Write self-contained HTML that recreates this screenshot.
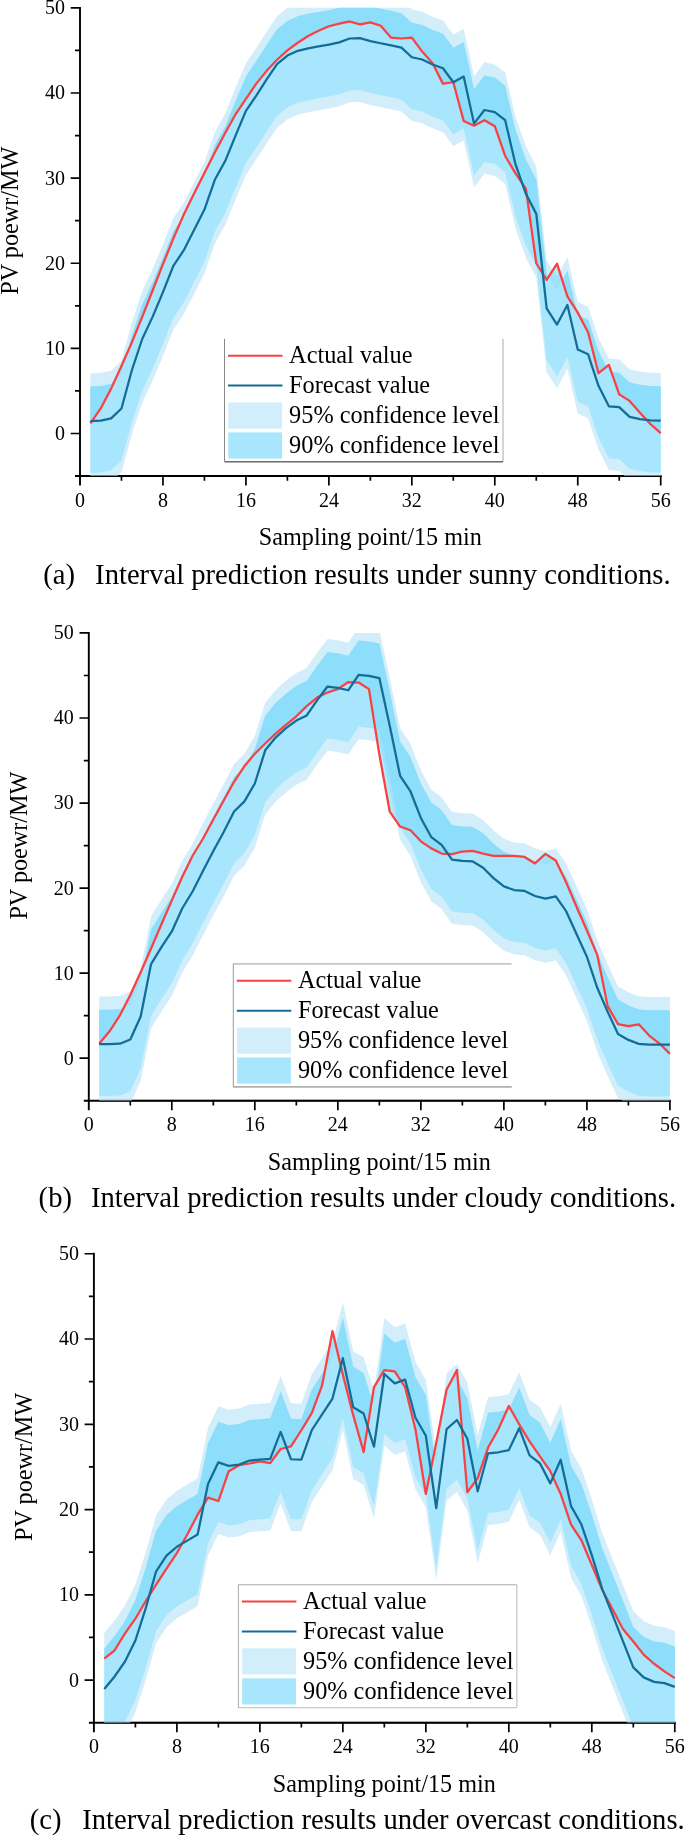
<!DOCTYPE html>
<html><head><meta charset="utf-8"><title>Interval prediction results</title>
<style>
html,body{margin:0;padding:0;background:#fff;}
body{width:685px;height:1836px;overflow:hidden;font-family:"Liberation Serif",serif;}
svg{display:block;will-change:transform;font-family:"Liberation Serif",serif;}
text{fill:#000;}
</style></head><body>
<svg width="685" height="1836" viewBox="0 0 685 1836">
<rect width="685" height="1836" fill="#fff"/>
<clipPath id="c0"><rect x="80" y="7.85" width="581.72" height="468.21"/></clipPath>
<g stroke="#000" stroke-width="1.9" fill="none" stroke-linecap="butt">
<path d="M80 6.9V485.56"/>
<path d="M75 476.06H661.67"/>
<path d="M70.7 433.5H80M70.7 348.37H80M70.7 263.24H80M70.7 178.11H80M70.7 92.98H80M70.7 7.85H80M75 390.94H80M75 305.81H80M75 220.68H80M75 135.55H80M75 50.42H80M162.96 476.06V485.56M245.92 476.06V485.56M328.88 476.06V485.56M411.84 476.06V485.56M494.8 476.06V485.56M577.76 476.06V485.56M660.72 476.06V485.56M121.48 476.06V480.87M204.44 476.06V480.87M287.4 476.06V480.87M370.36 476.06V480.87M453.32 476.06V480.87M536.28 476.06V480.87M619.24 476.06V480.87" stroke-width="1.7"/>
</g>
<g clip-path="url(#c0)">
<polygon fill="#D1EEFA" points="90.37,373.4 100.74,372.89 111.11,370.76 121.48,360.8 131.85,322.58 142.22,291.33 152.59,269.2 162.96,244.51 173.33,218.12 183.7,202.8 194.07,182.37 204.44,161.94 214.81,132.14 225.18,113.41 235.55,87.87 245.92,63.18 256.29,47.86 266.66,31.69 277.03,16.36 287.4,7.85 297.77,3.17 308.14,0.61 318.51,-1.26 328.88,-3.05 339.25,-5.35 349.62,-9.18 359.99,-9.52 370.36,-6.62 380.73,-4.41 391.1,-2.37 401.47,-0.07 411.84,9.55 422.21,11.85 432.58,16.79 442.95,20.62 453.32,34.58 463.69,28.88 474.06,75.95 484.43,62.33 494.8,64.38 505.17,72.55 515.54,116.82 525.91,146.19 536.28,166.19 546.65,260.69 557.02,276.86 567.39,257.28 577.76,301.89 588.13,306.66 598.5,338.15 608.87,358.59 619.24,359.44 629.61,369.23 639.98,371.44 650.35,372.72 660.72,373.06 660.72,484.58 650.35,484.24 639.98,482.96 629.61,480.75 619.24,470.96 608.87,470.11 598.5,449.67 588.13,418.18 577.76,413.41 567.39,368.8 557.02,388.38 546.65,372.21 536.28,277.71 525.91,257.71 515.54,228.34 505.17,184.07 494.8,175.9 484.43,173.85 474.06,187.47 463.69,140.4 453.32,146.1 442.95,132.14 432.58,128.31 422.21,123.37 411.84,121.07 401.47,111.45 391.1,109.15 380.73,107.11 370.36,104.9 359.99,102 349.62,102.34 339.25,106.18 328.88,108.47 318.51,110.26 308.14,112.13 297.77,114.69 287.4,119.37 277.03,127.88 266.66,143.21 256.29,159.38 245.92,174.7 235.55,199.39 225.18,224.93 214.81,243.66 204.44,273.46 194.07,293.89 183.7,314.32 173.33,329.64 162.96,356.03 152.59,380.72 142.22,402.85 131.85,434.1 121.48,472.32 111.11,482.28 100.74,484.41 90.37,484.92"/>
<polygon fill="#A7E6FC" points="90.37,386.59 100.74,386.08 111.11,383.95 121.48,373.99 131.85,335.77 142.22,304.53 152.59,282.39 162.96,257.71 173.33,231.32 183.7,215.99 194.07,195.56 204.44,175.13 214.81,145.33 225.18,126.61 235.55,101.07 245.92,76.38 256.29,61.06 266.66,44.88 277.03,29.56 287.4,21.05 297.77,16.36 308.14,13.81 318.51,11.94 328.88,10.15 339.25,7.85 349.62,4.02 359.99,3.68 370.36,6.57 380.73,8.79 391.1,10.83 401.47,13.13 411.84,22.75 422.21,25.05 432.58,29.98 442.95,33.81 453.32,47.78 463.69,42.07 474.06,89.15 484.43,75.53 494.8,77.57 505.17,85.74 515.54,130.01 525.91,159.38 536.28,179.39 546.65,273.88 557.02,290.06 567.39,270.48 577.76,315.08 588.13,319.85 598.5,351.35 608.87,371.78 619.24,372.63 629.61,382.42 639.98,384.64 650.35,385.91 660.72,386.25 660.72,472.66 650.35,472.32 639.98,471.04 629.61,468.83 619.24,459.04 608.87,458.19 598.5,437.76 588.13,406.26 577.76,401.49 567.39,356.88 557.02,376.46 546.65,360.29 536.28,265.79 525.91,245.79 515.54,216.42 505.17,172.15 494.8,163.98 484.43,161.94 474.06,175.56 463.69,128.48 453.32,134.18 442.95,120.22 432.58,116.39 422.21,111.45 411.84,109.15 401.47,99.54 391.1,97.24 380.73,95.19 370.36,92.98 359.99,90.09 349.62,90.43 339.25,94.26 328.88,96.56 318.51,98.34 308.14,100.22 297.77,102.77 287.4,107.45 277.03,115.97 266.66,131.29 256.29,147.46 245.92,162.79 235.55,187.47 225.18,213.01 214.81,231.74 204.44,261.54 194.07,281.97 183.7,302.4 173.33,317.72 162.96,344.11 152.59,368.8 142.22,390.94 131.85,422.18 121.48,460.4 111.11,470.36 100.74,472.49 90.37,473"/>
<polygon fill="rgba(120,216,250,0.57)" points="90.37,386.59 100.74,386.08 111.11,383.95 121.48,373.99 131.85,335.77 142.22,304.53 152.59,282.39 162.96,257.71 173.33,231.32 183.7,215.99 194.07,195.56 204.44,175.13 214.81,145.33 225.18,126.61 235.55,101.07 245.92,76.38 256.29,61.06 266.66,44.88 277.03,29.56 287.4,21.05 297.77,16.36 308.14,13.81 318.51,11.94 328.88,10.15 339.25,7.85 349.62,4.02 359.99,3.68 370.36,6.57 380.73,8.79 391.1,10.83 401.47,13.13 411.84,22.75 422.21,25.05 432.58,29.98 442.95,33.81 453.32,47.78 463.69,42.07 474.06,89.15 484.43,75.53 494.8,77.57 505.17,85.74 515.54,130.01 525.91,159.38 536.28,179.39 546.65,273.88 557.02,290.06 567.39,270.48 577.76,315.08 588.13,319.85 598.5,351.35 608.87,371.78 619.24,372.63 629.61,382.42 639.98,384.64 650.35,385.91 660.72,386.25 660.72,433.16 650.35,423.97 639.98,412.81 629.61,400.9 619.24,394.34 608.87,364.97 598.5,373.23 588.13,332.45 577.76,312.62 567.39,296.44 557.02,263.67 546.65,279.84 536.28,263.24 525.91,188.92 515.54,173.43 505.17,155.98 494.8,126.18 484.43,120.22 474.06,125.76 463.69,121.07 453.32,82.25 442.95,83.62 432.58,63.18 422.21,51.61 411.84,37.65 401.47,38.5 391.1,37.65 380.73,25.73 370.36,22.32 359.99,24.45 349.62,21.47 339.25,23.6 328.88,26.24 318.51,30.84 308.14,35.94 297.77,42.75 287.4,50.42 277.03,59.78 266.66,70.85 256.29,83.62 245.92,98.94 235.55,114.26 225.18,132.99 214.81,152.57 204.44,173 194.07,193.43 183.7,214.72 173.33,238.55 162.96,264.09 152.59,290.48 142.22,316.87 131.85,342.41 121.48,365.91 111.11,388.64 100.74,408.47 90.37,423.28"/>
</g>
<path d="M90.37 476.06H660.72" stroke="#000" stroke-width="1.9" opacity="0.45"/>
<polyline fill="none" stroke="#FA4040" stroke-width="2.25" stroke-linejoin="round" points="90.37,423.28 100.74,408.47 111.11,388.64 121.48,365.91 131.85,342.41 142.22,316.87 152.59,290.48 162.96,264.09 173.33,238.55 183.7,214.72 194.07,193.43 204.44,173 214.81,152.57 225.18,132.99 235.55,114.26 245.92,98.94 256.29,83.62 266.66,70.85 277.03,59.78 287.4,50.42 297.77,42.75 308.14,35.94 318.51,30.84 328.88,26.24 339.25,23.6 349.62,21.47 359.99,24.45 370.36,22.32 380.73,25.73 391.1,37.65 401.47,38.5 411.84,37.65 422.21,51.61 432.58,63.18 442.95,83.62 453.32,82.25 463.69,121.07 474.06,125.76 484.43,120.22 494.8,126.18 505.17,155.98 515.54,173.43 525.91,188.92 536.28,263.24 546.65,279.84 557.02,263.67 567.39,296.44 577.76,312.62 588.13,332.45 598.5,373.23 608.87,364.97 619.24,394.34 629.61,400.9 639.98,412.81 650.35,423.97 660.72,433.16"/>
<polyline fill="none" stroke="#146C96" stroke-width="2.25" stroke-linejoin="round" points="90.37,421.07 100.74,420.56 111.11,418.43 121.48,408.47 131.85,370.25 142.22,339.01 152.59,316.87 162.96,292.18 173.33,265.79 183.7,250.47 194.07,230.04 204.44,209.61 214.81,179.81 225.18,161.08 235.55,135.55 245.92,110.86 256.29,95.53 266.66,79.36 277.03,64.04 287.4,55.52 297.77,50.84 308.14,48.29 318.51,46.41 328.88,44.63 339.25,42.33 349.62,38.5 359.99,38.16 370.36,41.05 380.73,43.26 391.1,45.31 401.47,47.61 411.84,57.23 422.21,59.52 432.58,64.46 442.95,68.29 453.32,82.25 463.69,76.55 474.06,123.63 484.43,110.01 494.8,112.05 505.17,120.22 515.54,164.49 525.91,193.86 536.28,213.86 546.65,308.36 557.02,324.53 567.39,304.95 577.76,349.56 588.13,354.33 598.5,385.83 608.87,406.26 619.24,407.11 629.61,416.9 639.98,419.11 650.35,420.39 660.72,420.73"/>
<g font-size="20" fill="#000">
<text x="65" y="439.9" text-anchor="end">0</text>
<text x="65" y="354.77" text-anchor="end">10</text>
<text x="65" y="269.64" text-anchor="end">20</text>
<text x="65" y="184.51" text-anchor="end">30</text>
<text x="65" y="99.38" text-anchor="end">40</text>
<text x="65" y="14.25" text-anchor="end">50</text>
<text x="80" y="506.67" text-anchor="middle">0</text>
<text x="162.96" y="506.67" text-anchor="middle">8</text>
<text x="245.92" y="506.67" text-anchor="middle">16</text>
<text x="328.88" y="506.67" text-anchor="middle">24</text>
<text x="411.84" y="506.67" text-anchor="middle">32</text>
<text x="494.8" y="506.67" text-anchor="middle">40</text>
<text x="577.76" y="506.67" text-anchor="middle">48</text>
<text x="660.72" y="506.67" text-anchor="middle">56</text>
</g>
<text x="370.36" y="545.47" font-size="24.2" text-anchor="middle">Sampling point/15 min</text>
<text transform="translate(17.9,220.7) rotate(-90)" font-size="24.2" text-anchor="middle">PV poewr/MW</text>
<rect x="224.5" y="338.85" width="278.5" height="123" fill="#fff"/>
<path d="M224.5 338.85H503" stroke="#fff" stroke-width="1"/>
<path d="M503 338.85V461.85" stroke="#aaa" stroke-width="1"/>
<path d="M224.5 461.85H503" stroke="#222" stroke-width="1"/>
<path d="M224.5 338.85V461.85" stroke="#888" stroke-width="1"/>
<path d="M228 355.65H282.5" stroke="#FA4040" stroke-width="2"/>
<path d="M228 385.6H282.5" stroke="#146C96" stroke-width="2"/>
<rect x="228.3" y="402.45" width="53.8" height="26.2" fill="#D1EEFA"/>
<rect x="228.3" y="432.4" width="53.8" height="26.2" fill="#A7E6FC"/>
<g font-size="24.3">
<text x="289.1" y="362.95">Actual value</text>
<text x="289.1" y="392.9">Forecast value</text>
<text x="289.1" y="422.85">95% confidence level</text>
<text x="289.1" y="452.8">90% confidence level</text>
</g>
<g font-size="28.64"><text x="43.2" y="583.6">(a)</text><text x="95.1" y="583.6">Interval prediction results under sunny conditions.</text></g>
<clipPath id="c1"><rect x="88.8" y="632.95" width="582.11" height="467.78"/></clipPath>
<g stroke="#000" stroke-width="1.9" fill="none" stroke-linecap="butt">
<path d="M88.8 632V1110.23"/>
<path d="M83.8 1100.73H670.86"/>
<path d="M79.5 1058.2H88.8M79.5 973.15H88.8M79.5 888.1H88.8M79.5 803.05H88.8M79.5 718H88.8M79.5 632.95H88.8M83.8 1015.68H88.8M83.8 930.62H88.8M83.8 845.58H88.8M83.8 760.53H88.8M83.8 675.48H88.8M171.82 1100.73V1110.23M254.83 1100.73V1110.23M337.85 1100.73V1110.23M420.86 1100.73V1110.23M503.88 1100.73V1110.23M586.9 1100.73V1110.23M669.91 1100.73V1110.23M130.31 1100.73V1105.53M213.32 1100.73V1105.53M296.34 1100.73V1105.53M379.36 1100.73V1105.53M462.37 1100.73V1105.53M545.39 1100.73V1105.53M628.4 1100.73V1105.53" stroke-width="1.7"/>
</g>
<g clip-path="url(#c1)">
<polygon fill="#D1EEFA" points="99.18,996.45 109.55,996.45 119.93,996.11 130.31,991.86 140.69,968.9 151.06,916.42 161.44,899.58 171.82,883.85 182.19,860.88 192.57,843.87 202.95,823.46 213.32,803.39 223.7,784.34 234.08,763.93 244.45,753.72 254.83,735.86 265.21,702.69 275.59,689.93 285.96,680.58 296.34,672.92 306.72,667.82 317.09,652.77 327.47,638.9 337.85,640.18 348.23,642.65 358.6,627.34 368.98,628.27 379.36,630.4 389.73,678.03 400.11,728.21 410.49,743.86 420.86,770.31 431.24,789.44 441.62,797.18 452,812.07 462.37,813.26 472.75,813.85 483.13,820.06 493.5,830.52 503.88,838.77 514.26,842.43 524.63,843.36 535.01,848.38 545.39,851.02 555.76,848.72 566.14,863.61 576.52,886.4 586.9,909.11 597.27,940.15 607.65,964.13 618.03,986.33 628.4,992.29 638.78,996.28 649.16,996.96 659.53,996.96 669.91,996.96 669.91,1108.8 659.53,1108.8 649.16,1108.8 638.78,1108.12 628.4,1104.13 618.03,1098.17 607.65,1075.98 597.27,1051.99 586.9,1020.95 576.52,998.24 566.14,975.45 555.76,960.56 545.39,962.86 535.01,960.22 524.63,955.2 514.26,954.27 503.88,950.61 493.5,942.36 483.13,931.9 472.75,925.69 462.37,925.1 452,923.91 441.62,909.02 431.24,901.28 420.86,882.15 410.49,855.7 400.11,840.05 389.73,789.87 379.36,742.24 368.98,740.11 358.6,739.18 348.23,754.49 337.85,752.02 327.47,750.74 317.09,764.61 306.72,779.66 296.34,784.76 285.96,792.42 275.59,801.77 265.21,814.53 254.83,847.7 244.45,865.56 234.08,875.77 223.7,896.18 213.32,915.23 202.95,935.3 192.57,955.71 182.19,972.72 171.82,995.69 161.44,1011.42 151.06,1028.26 140.69,1080.74 130.31,1103.7 119.93,1107.95 109.55,1108.29 99.18,1108.29"/>
<polygon fill="#A7E6FC" points="99.18,1009.64 109.55,1009.64 119.93,1009.3 130.31,1005.04 140.69,982.08 151.06,929.6 161.44,912.76 171.82,897.03 182.19,874.07 192.57,857.06 202.95,836.64 213.32,816.57 223.7,797.52 234.08,777.11 244.45,766.9 254.83,749.04 265.21,715.87 275.59,703.12 285.96,693.76 296.34,686.11 306.72,681 317.09,665.95 327.47,652.09 337.85,653.36 348.23,655.83 358.6,640.52 368.98,641.45 379.36,643.58 389.73,691.21 400.11,741.39 410.49,757.04 420.86,783.49 431.24,802.62 441.62,810.36 452,825.25 462.37,826.44 472.75,827.03 483.13,833.24 493.5,843.7 503.88,851.95 514.26,855.61 524.63,856.55 535.01,861.56 545.39,864.2 555.76,861.9 566.14,876.79 576.52,899.58 586.9,922.29 597.27,953.33 607.65,977.32 618.03,999.52 628.4,1005.47 638.78,1009.47 649.16,1010.15 659.53,1010.15 669.91,1010.15 669.91,1096.47 659.53,1096.47 649.16,1096.47 638.78,1095.79 628.4,1091.79 618.03,1085.84 607.65,1063.64 597.27,1039.66 586.9,1008.62 576.52,985.91 566.14,963.11 555.76,948.23 545.39,950.53 535.01,947.89 524.63,942.87 514.26,941.94 503.88,938.28 493.5,930.03 483.13,919.57 472.75,913.36 462.37,912.76 452,911.57 441.62,896.69 431.24,888.95 420.86,869.81 410.49,843.36 400.11,827.71 389.73,777.54 379.36,729.91 368.98,727.78 358.6,726.85 348.23,742.15 337.85,739.69 327.47,738.41 317.09,752.28 306.72,767.33 296.34,772.43 285.96,780.09 275.59,789.44 265.21,802.2 254.83,835.37 244.45,853.23 234.08,863.44 223.7,883.85 213.32,902.9 202.95,922.97 192.57,943.38 182.19,960.39 171.82,983.36 161.44,999.09 151.06,1015.93 140.69,1068.41 130.31,1091.37 119.93,1095.62 109.55,1095.96 99.18,1095.96"/>
<polygon fill="rgba(120,216,250,0.57)" points="99.18,1009.64 109.55,1009.64 119.93,1009.3 130.31,1005.04 140.69,982.08 151.06,929.6 161.44,912.76 171.82,897.03 182.19,874.07 192.57,857.06 202.95,836.64 213.32,816.57 223.7,797.52 234.08,777.11 244.45,766.9 254.83,749.04 265.21,715.87 275.59,703.12 285.96,693.76 296.34,686.11 306.72,681 317.09,665.95 327.47,652.09 337.85,653.36 348.23,655.83 358.6,640.52 368.98,641.45 379.36,643.58 389.73,691.21 400.11,741.39 410.49,757.04 420.86,783.49 431.24,802.62 441.62,810.36 452,825.25 462.37,826.44 472.75,827.03 483.13,833.24 493.5,843.7 503.88,851.95 514.26,855.61 524.63,856.55 535.01,861.56 545.39,864.2 555.76,861.9 566.14,876.79 576.52,899.58 586.9,922.29 597.27,953.33 607.65,977.32 618.03,999.52 628.4,1005.47 638.78,1009.47 649.16,1010.15 659.53,1010.15 669.91,1010.15 669.91,1053.86 659.53,1043.57 649.16,1035.58 638.78,1024.35 628.4,1026.05 618.03,1024.18 607.65,1006.15 597.27,954.86 586.9,930.45 576.52,906.81 566.14,882.32 555.76,860.46 545.39,853.91 535.01,863.44 524.63,856.97 514.26,855.78 503.88,855.78 493.5,855.78 483.13,853.57 472.75,850.93 462.37,851.53 452,854.08 441.62,853.57 431.24,848.38 420.86,841.32 410.49,830.27 400.11,826.52 389.73,811.56 379.36,754.57 368.98,689.08 358.6,682.53 348.23,682.02 337.85,689.08 327.47,692.49 317.09,697.59 306.72,706.09 296.34,716.3 285.96,724.8 275.59,733.65 265.21,743.52 254.83,753.72 244.45,766.05 234.08,781.79 223.7,800.5 213.32,819.55 202.95,838.77 192.57,855.78 182.19,877.04 171.82,900.35 161.44,924.25 151.06,948.49 140.69,972.3 130.31,995.01 119.93,1015.33 109.55,1031.32 99.18,1043.74"/>
</g>
<path d="M99.18 1100.73H669.91" stroke="#000" stroke-width="1.9" opacity="0.45"/>
<polyline fill="none" stroke="#FA4040" stroke-width="2.25" stroke-linejoin="round" points="99.18,1043.74 109.55,1031.32 119.93,1015.33 130.31,995.01 140.69,972.3 151.06,948.49 161.44,924.25 171.82,900.35 182.19,877.04 192.57,855.78 202.95,838.77 213.32,819.55 223.7,800.5 234.08,781.79 244.45,766.05 254.83,753.72 265.21,743.52 275.59,733.65 285.96,724.8 296.34,716.3 306.72,706.09 317.09,697.59 327.47,692.49 337.85,689.08 348.23,682.02 358.6,682.53 368.98,689.08 379.36,754.57 389.73,811.56 400.11,826.52 410.49,830.27 420.86,841.32 431.24,848.38 441.62,853.57 452,854.08 462.37,851.53 472.75,850.93 483.13,853.57 493.5,855.78 503.88,855.78 514.26,855.78 524.63,856.97 535.01,863.44 545.39,853.91 555.76,860.46 566.14,882.32 576.52,906.81 586.9,930.45 597.27,954.86 607.65,1006.15 618.03,1024.18 628.4,1026.05 638.78,1024.35 649.16,1035.58 659.53,1043.57 669.91,1053.86"/>
<polyline fill="none" stroke="#146C96" stroke-width="2.25" stroke-linejoin="round" points="99.18,1044.08 109.55,1044.08 119.93,1043.74 130.31,1039.49 140.69,1016.53 151.06,964.05 161.44,947.21 171.82,931.48 182.19,908.51 192.57,891.5 202.95,871.09 213.32,851.02 223.7,831.97 234.08,811.56 244.45,801.35 254.83,783.49 265.21,750.32 275.59,737.56 285.96,728.21 296.34,720.55 306.72,715.45 317.09,700.39 327.47,686.53 337.85,687.81 348.23,690.27 358.6,674.96 368.98,675.9 379.36,678.03 389.73,725.65 400.11,775.83 410.49,791.48 420.86,817.93 431.24,837.07 441.62,844.81 452,859.69 462.37,860.88 472.75,861.48 483.13,867.69 493.5,878.15 503.88,886.4 514.26,890.06 524.63,890.99 535.01,896.01 545.39,898.65 555.76,896.35 566.14,911.23 576.52,934.03 586.9,956.74 597.27,987.78 607.65,1011.76 618.03,1033.96 628.4,1039.91 638.78,1043.91 649.16,1044.59 659.53,1044.59 669.91,1044.59"/>
<g font-size="20" fill="#000">
<text x="73.8" y="1064.6" text-anchor="end">0</text>
<text x="73.8" y="979.55" text-anchor="end">10</text>
<text x="73.8" y="894.5" text-anchor="end">20</text>
<text x="73.8" y="809.45" text-anchor="end">30</text>
<text x="73.8" y="724.4" text-anchor="end">40</text>
<text x="73.8" y="639.35" text-anchor="end">50</text>
<text x="88.8" y="1131.33" text-anchor="middle">0</text>
<text x="171.82" y="1131.33" text-anchor="middle">8</text>
<text x="254.83" y="1131.33" text-anchor="middle">16</text>
<text x="337.85" y="1131.33" text-anchor="middle">24</text>
<text x="420.86" y="1131.33" text-anchor="middle">32</text>
<text x="503.88" y="1131.33" text-anchor="middle">40</text>
<text x="586.9" y="1131.33" text-anchor="middle">48</text>
<text x="669.91" y="1131.33" text-anchor="middle">56</text>
</g>
<text x="379.36" y="1170.13" font-size="24.2" text-anchor="middle">Sampling point/15 min</text>
<text transform="translate(26.7,845.6) rotate(-90)" font-size="24.2" text-anchor="middle">PV poewr/MW</text>
<rect x="233.3" y="963.95" width="278.5" height="123" fill="#fff"/>
<path d="M233.3 963.95H511.8" stroke="#999" stroke-width="1"/>
<path d="M511.8 963.95V1086.95" stroke="#fff" stroke-width="1"/>
<path d="M233.3 1086.95H511.8" stroke="#777" stroke-width="1"/>
<path d="M233.3 963.95V1086.95" stroke="#999" stroke-width="1"/>
<path d="M236.8 980.75H291.3" stroke="#FA4040" stroke-width="2"/>
<path d="M236.8 1010.7H291.3" stroke="#146C96" stroke-width="2"/>
<rect x="237.1" y="1027.55" width="53.8" height="26.2" fill="#D1EEFA"/>
<rect x="237.1" y="1057.5" width="53.8" height="26.2" fill="#A7E6FC"/>
<g font-size="24.3">
<text x="297.9" y="988.05">Actual value</text>
<text x="297.9" y="1018">Forecast value</text>
<text x="297.9" y="1047.95">95% confidence level</text>
<text x="297.9" y="1077.9">90% confidence level</text>
</g>
<g font-size="28.64"><text x="38.6" y="1207.3">(b)</text><text x="91" y="1207.3">Interval prediction results under cloudy conditions.</text></g>
<clipPath id="c2"><rect x="93.9" y="1253.75" width="581.89" height="468.98"/></clipPath>
<g stroke="#000" stroke-width="1.9" fill="none" stroke-linecap="butt">
<path d="M93.9 1252.8V1732.23"/>
<path d="M88.9 1722.73H675.74"/>
<path d="M84.6 1680.1H93.9M84.6 1594.83H93.9M84.6 1509.56H93.9M84.6 1424.29H93.9M84.6 1339.02H93.9M84.6 1253.75H93.9M88.9 1637.46H93.9M88.9 1552.19H93.9M88.9 1466.92H93.9M88.9 1381.65H93.9M88.9 1296.38H93.9M176.88 1722.73V1732.23M259.87 1722.73V1732.23M342.85 1722.73V1732.23M425.84 1722.73V1732.23M508.82 1722.73V1732.23M591.8 1722.73V1732.23M674.79 1722.73V1732.23M135.39 1722.73V1727.53M218.38 1722.73V1727.53M301.36 1722.73V1727.53M384.34 1722.73V1727.53M467.33 1722.73V1727.53M550.31 1722.73V1727.53M633.3 1722.73V1727.53" stroke-width="1.7"/>
</g>
<g clip-path="url(#c2)">
<polygon fill="#D1EEFA" points="104.27,1633.03 114.65,1620.41 125.02,1605.49 135.39,1584.51 145.76,1552.11 156.14,1515.27 166.51,1499.58 176.88,1490.72 187.26,1484.58 197.63,1478.44 208,1427.96 218.38,1406.3 228.75,1409.79 239.12,1408.6 249.5,1404.51 259.87,1403.65 270.24,1402.8 280.61,1375.94 290.99,1403.23 301.36,1403.65 311.73,1374.24 322.11,1358.29 332.48,1342.52 342.85,1302.18 353.23,1351.3 363.6,1357.44 373.97,1390.69 384.34,1317.96 394.72,1327.34 405.09,1323.59 415.46,1361.7 425.84,1379.78 436.21,1452 446.58,1373.13 456.95,1364 467.33,1382.76 477.7,1435.29 488.07,1397.26 498.45,1396.24 508.82,1394.1 519.19,1372.19 529.57,1399.39 539.94,1407.24 550.31,1427.36 560.68,1403.74 571.06,1450.13 581.43,1468.55 591.8,1499.16 602.18,1532.84 612.55,1558.93 622.92,1585.02 633.3,1611.37 643.67,1621.35 654.04,1625.87 664.41,1627.15 674.79,1630.9 674.79,1758.55 664.41,1754.8 654.04,1753.52 643.67,1749 633.3,1739.02 622.92,1712.67 612.55,1686.58 602.18,1660.49 591.8,1626.81 581.43,1596.19 571.06,1577.78 560.68,1531.39 550.31,1555.01 539.94,1534.89 529.57,1527.04 519.19,1499.84 508.82,1521.75 498.45,1523.89 488.07,1524.91 477.7,1562.94 467.33,1510.41 456.95,1491.65 446.58,1500.78 436.21,1579.65 425.84,1507.43 415.46,1489.35 405.09,1451.24 394.72,1454.99 384.34,1445.61 373.97,1518.34 363.6,1485.09 353.23,1478.95 342.85,1429.83 332.48,1470.17 322.11,1485.94 311.73,1501.89 301.36,1531.3 290.99,1530.88 280.61,1503.59 270.24,1530.45 259.87,1531.3 249.5,1532.16 239.12,1536.25 228.75,1537.44 218.38,1533.95 208,1555.61 197.63,1606.09 187.26,1612.23 176.88,1618.36 166.51,1627.23 156.14,1642.92 145.76,1679.76 135.39,1712.16 125.02,1733.14 114.65,1748.06 104.27,1760.68"/>
<polygon fill="#A7E6FC" points="104.27,1648.55 114.65,1635.93 125.02,1621.01 135.39,1600.03 145.76,1567.63 156.14,1530.79 166.51,1515.1 176.88,1506.23 187.26,1500.1 197.63,1493.96 208,1443.48 218.38,1421.82 228.75,1425.31 239.12,1424.12 249.5,1420.03 259.87,1419.17 270.24,1418.32 280.61,1391.46 290.99,1418.75 301.36,1419.17 311.73,1389.76 322.11,1373.81 332.48,1358.04 342.85,1317.7 353.23,1366.82 363.6,1372.96 373.97,1406.21 384.34,1333.48 394.72,1342.86 405.09,1339.11 415.46,1377.22 425.84,1395.3 436.21,1467.52 446.58,1388.65 456.95,1379.52 467.33,1398.28 477.7,1450.81 488.07,1412.78 498.45,1411.76 508.82,1409.62 519.19,1387.71 529.57,1414.91 539.94,1422.76 550.31,1442.88 560.68,1419.26 571.06,1465.65 581.43,1484.06 591.8,1514.68 602.18,1548.36 612.55,1574.45 622.92,1600.54 633.3,1626.89 643.67,1636.87 654.04,1641.39 664.41,1642.67 674.79,1646.42 674.79,1746.61 664.41,1742.86 654.04,1741.58 643.67,1737.06 633.3,1727.08 622.92,1700.74 612.55,1674.64 602.18,1648.55 591.8,1614.87 581.43,1584.26 571.06,1565.84 560.68,1519.45 550.31,1543.07 539.94,1522.95 529.57,1515.1 519.19,1487.9 508.82,1509.82 498.45,1511.95 488.07,1512.97 477.7,1551 467.33,1498.47 456.95,1479.72 446.58,1488.84 436.21,1567.71 425.84,1495.49 415.46,1477.41 405.09,1439.3 394.72,1443.05 384.34,1433.67 373.97,1506.41 363.6,1473.15 353.23,1467.01 342.85,1417.89 332.48,1458.23 322.11,1474 311.73,1489.95 301.36,1519.37 290.99,1518.94 280.61,1491.65 270.24,1518.51 259.87,1519.37 249.5,1520.22 239.12,1524.31 228.75,1525.51 218.38,1522.01 208,1543.67 197.63,1594.15 187.26,1600.29 176.88,1606.43 166.51,1615.29 156.14,1630.98 145.76,1667.82 135.39,1700.22 125.02,1721.2 114.65,1736.12 104.27,1748.74"/>
<polygon fill="rgba(120,216,250,0.57)" points="104.27,1648.55 114.65,1635.93 125.02,1621.01 135.39,1600.03 145.76,1567.63 156.14,1530.79 166.51,1515.1 176.88,1506.23 187.26,1500.1 197.63,1493.96 208,1443.48 218.38,1421.82 228.75,1425.31 239.12,1424.12 249.5,1420.03 259.87,1419.17 270.24,1418.32 280.61,1391.46 290.99,1418.75 301.36,1419.17 311.73,1389.76 322.11,1373.81 332.48,1358.04 342.85,1317.7 353.23,1366.82 363.6,1372.96 373.97,1406.21 384.34,1333.48 394.72,1342.86 405.09,1339.11 415.46,1377.22 425.84,1395.3 436.21,1467.52 446.58,1388.65 456.95,1379.52 467.33,1398.28 477.7,1450.81 488.07,1412.78 498.45,1411.76 508.82,1409.62 519.19,1387.71 529.57,1414.91 539.94,1422.76 550.31,1442.88 560.68,1419.26 571.06,1465.65 581.43,1484.06 591.8,1514.68 602.18,1548.36 612.55,1574.45 622.92,1600.54 633.3,1626.89 643.67,1636.87 654.04,1641.39 664.41,1642.67 674.79,1646.42 674.79,1678.14 664.41,1671.32 654.04,1663.73 643.67,1654.6 633.3,1641.47 622.92,1628.94 612.55,1609.33 602.18,1589.71 591.8,1564.99 581.43,1540.26 571.06,1524.57 560.68,1493.96 550.31,1471.19 539.94,1456.27 529.57,1441.34 519.19,1424.29 508.82,1406.04 498.45,1429.15 488.07,1447.57 477.7,1478.18 467.33,1492.25 456.95,1369.97 446.58,1389.76 436.21,1443.05 425.84,1493.96 415.46,1429.41 405.09,1387.11 394.72,1371.42 384.34,1370.14 373.97,1387.11 363.6,1452 353.23,1415.17 342.85,1374.83 332.48,1331.09 322.11,1385.41 311.73,1413.2 301.36,1430.26 290.99,1446.46 280.61,1449.02 270.24,1463.17 259.87,1461.47 249.5,1463.51 239.12,1465.22 228.75,1471.19 218.38,1501.03 208,1497.62 197.63,1514.68 187.26,1534.54 176.88,1553.05 166.51,1568.65 156.14,1584.6 145.76,1601.05 135.39,1618.71 125.02,1633.46 114.65,1650.26 104.27,1658.53"/>
</g>
<path d="M104.27 1722.73H674.79" stroke="#000" stroke-width="1.9" opacity="0.45"/>
<polyline fill="none" stroke="#FA4040" stroke-width="2.25" stroke-linejoin="round" points="104.27,1658.53 114.65,1650.26 125.02,1633.46 135.39,1618.71 145.76,1601.05 156.14,1584.6 166.51,1568.65 176.88,1553.05 187.26,1534.54 197.63,1514.68 208,1497.62 218.38,1501.03 228.75,1471.19 239.12,1465.22 249.5,1463.51 259.87,1461.47 270.24,1463.17 280.61,1449.02 290.99,1446.46 301.36,1430.26 311.73,1413.2 322.11,1385.41 332.48,1331.09 342.85,1374.83 353.23,1415.17 363.6,1452 373.97,1387.11 384.34,1370.14 394.72,1371.42 405.09,1387.11 415.46,1429.41 425.84,1493.96 436.21,1443.05 446.58,1389.76 456.95,1369.97 467.33,1492.25 477.7,1478.18 488.07,1447.57 498.45,1429.15 508.82,1406.04 519.19,1424.29 529.57,1441.34 539.94,1456.27 550.31,1471.19 560.68,1493.96 571.06,1524.57 581.43,1540.26 591.8,1564.99 602.18,1589.71 612.55,1609.33 622.92,1628.94 633.3,1641.47 643.67,1654.6 654.04,1663.73 664.41,1671.32 674.79,1678.14"/>
<polyline fill="none" stroke="#146C96" stroke-width="2.25" stroke-linejoin="round" points="104.27,1689.05 114.65,1676.43 125.02,1661.51 135.39,1640.53 145.76,1608.13 156.14,1571.3 166.51,1555.61 176.88,1546.74 187.26,1540.6 197.63,1534.46 208,1483.98 218.38,1462.32 228.75,1465.82 239.12,1464.62 249.5,1460.53 259.87,1459.68 270.24,1458.82 280.61,1431.96 290.99,1459.25 301.36,1459.68 311.73,1430.26 322.11,1414.31 332.48,1398.54 342.85,1358.21 353.23,1407.32 363.6,1413.46 373.97,1446.72 384.34,1373.98 394.72,1383.36 405.09,1379.61 415.46,1417.72 425.84,1435.8 436.21,1508.03 446.58,1429.15 456.95,1420.03 467.33,1438.79 477.7,1491.31 488.07,1453.28 498.45,1452.26 508.82,1450.13 519.19,1428.21 529.57,1455.41 539.94,1463.26 550.31,1483.38 560.68,1459.76 571.06,1506.15 581.43,1524.57 591.8,1555.18 602.18,1588.86 612.55,1614.95 622.92,1641.05 633.3,1667.39 643.67,1677.37 654.04,1681.89 664.41,1683.17 674.79,1686.92"/>
<g font-size="20" fill="#000">
<text x="78.9" y="1686.5" text-anchor="end">0</text>
<text x="78.9" y="1601.23" text-anchor="end">10</text>
<text x="78.9" y="1515.96" text-anchor="end">20</text>
<text x="78.9" y="1430.69" text-anchor="end">30</text>
<text x="78.9" y="1345.42" text-anchor="end">40</text>
<text x="78.9" y="1260.15" text-anchor="end">50</text>
<text x="93.9" y="1753.33" text-anchor="middle">0</text>
<text x="176.88" y="1753.33" text-anchor="middle">8</text>
<text x="259.87" y="1753.33" text-anchor="middle">16</text>
<text x="342.85" y="1753.33" text-anchor="middle">24</text>
<text x="425.84" y="1753.33" text-anchor="middle">32</text>
<text x="508.82" y="1753.33" text-anchor="middle">40</text>
<text x="591.8" y="1753.33" text-anchor="middle">48</text>
<text x="674.79" y="1753.33" text-anchor="middle">56</text>
</g>
<text x="384.34" y="1792.13" font-size="24.2" text-anchor="middle">Sampling point/15 min</text>
<text transform="translate(31.8,1466.95) rotate(-90)" font-size="24.2" text-anchor="middle">PV poewr/MW</text>
<rect x="238.4" y="1584.75" width="278.5" height="123" fill="#fff"/>
<path d="M238.4 1584.75H516.9" stroke="#aaa" stroke-width="1"/>
<path d="M516.9 1584.75V1707.75" stroke="#bbb" stroke-width="1"/>
<path d="M238.4 1707.75H516.9" stroke="#bbb" stroke-width="1"/>
<path d="M238.4 1584.75V1707.75" stroke="#aaa" stroke-width="1"/>
<path d="M241.9 1601.55H296.4" stroke="#FA4040" stroke-width="2"/>
<path d="M241.9 1631.5H296.4" stroke="#146C96" stroke-width="2"/>
<rect x="242.2" y="1648.35" width="53.8" height="26.2" fill="#D1EEFA"/>
<rect x="242.2" y="1678.3" width="53.8" height="26.2" fill="#A7E6FC"/>
<g font-size="24.3">
<text x="303" y="1608.85">Actual value</text>
<text x="303" y="1638.8">Forecast value</text>
<text x="303" y="1668.75">95% confidence level</text>
<text x="303" y="1698.7">90% confidence level</text>
</g>
<g font-size="28.64"><text x="29.8" y="1829.4">(c)</text><text x="82.2" y="1829.4">Interval prediction results under overcast conditions.</text></g>
</svg>
</body></html>
